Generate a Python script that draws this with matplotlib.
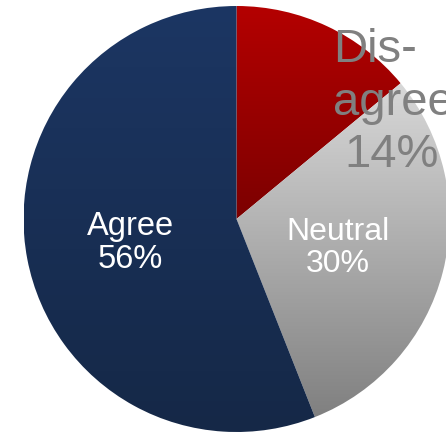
import numpy as np
import matplotlib
matplotlib.use("Agg")
import matplotlib.pyplot as plt
from matplotlib.colors import LinearSegmentedColormap

# survey responses
labels = ["Disagree", "Neutral", "Agree"]
shares = [14, 30, 56]
# top / bottom colours of each slice gradient
grad_top = ["#b40000", "#d8d8d8", "#1c3663"]
grad_bottom = ["#7c0000", "#808080", "#152847"]

plt.rcParams["font.family"] = ["Liberation Sans", "DejaVu Sans"]

W, H = 446, 435
fig = plt.figure(figsize=(W / 100, H / 100), dpi=100)
ax = fig.add_axes([0, 0, 1, 1])

cx, cy, r = 236.5, 215, 213
wedges, _ = ax.pie(shares, startangle=90, counterclock=False, radius=r,
                   center=(cx, cy), frame=True,
                   wedgeprops=dict(linewidth=0, edgecolor="none"))

# vertical gradient fill clipped to every wedge
for w, c0, c1 in zip(wedges, grad_top, grad_bottom):
    w.set_facecolor("none")
    bb = w.get_path().get_extents(w.get_transform() - ax.transData)
    cmap = LinearSegmentedColormap.from_list("g", [c1, c0])
    grad = np.linspace(0, 1, 256).reshape(-1, 1)
    im = ax.imshow(grad, cmap=cmap, origin="lower", aspect="auto",
                   extent=[bb.x0, bb.x1, bb.y0, bb.y1], zorder=1,
                   interpolation="bilinear")
    im.set_clip_path(w)

ax.set_xlim(0, W)
ax.set_ylim(0, H)
ax.set_aspect("equal")
ax.axis("off")

# labels inside the slices
ax.text(130, H - 243, "%s\n%d%%" % (labels[2], shares[2]), color="white",
        fontsize=23.5, ha="center", va="center", linespacing=1.05, zorder=3)
ax.text(338, H - 248, "%s\n%d%%" % (labels[1], shares[1]), color="white",
        fontsize=23, ha="center", va="center", linespacing=1.05, zorder=3)

# the small slice gets a bigger grey label that spills over the edge
ax.text(333, H - 62, "Dis-", color="#808080", fontsize=34, ha="left",
        va="baseline", zorder=3)
ax.text(333, H - 115, "agree", color="#808080", fontsize=34, ha="left",
        va="baseline", zorder=3)
ax.text(392, H - 167, "%d%%" % shares[0], color="#808080", fontsize=34,
        ha="center", va="baseline", zorder=3)

fig.savefig("out.png", dpi=100)
